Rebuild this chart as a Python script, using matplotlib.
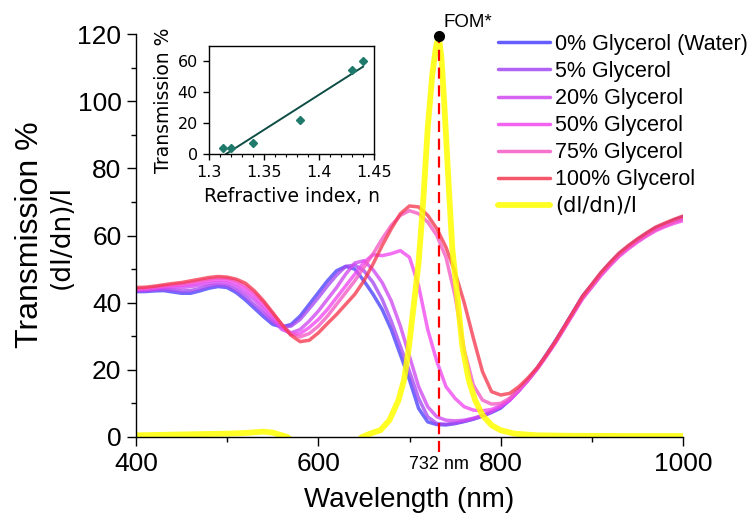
import numpy as np
import matplotlib
matplotlib.use('Agg')
import matplotlib.pyplot as plt
import matplotlib.transforms as mtransforms
from matplotlib.ticker import MultipleLocator

plt.rcParams['font.family'] = ['Liberation Sans', 'DejaVu Sans']

# ---------------- transmission spectra ----------------
wavelength = np.arange(400, 1001, 10)

# 400-800 nm, then the 810-1000 nm tail where all spectra collapse together
t_water = [43.3, 43.3, 43.5, 43.6, 43.2, 42.8, 42.8, 43.5, 44.3, 44.8, 44.5, 43.0, 40.8, 38.3,
           35.8, 33.5, 32.8, 33.5, 36.0, 39.5, 43.0, 46.5, 49.5, 50.8, 50.0, 46.5, 42.5, 38.0,
           32.0, 24.5, 17.0, 8.5, 4.5, 3.7, 3.6, 4.0, 4.6, 5.3, 6.2, 7.3, 8.6,
           11.0, 13.8, 17.0, 20.5, 24.5, 28.6, 33.0, 37.5, 42.0, 45.3, 48.8, 51.8, 54.6, 56.8,
           58.8, 60.6, 62.3, 63.4, 64.6, 65.6]
t_gly5 = [43.5, 43.6, 43.8, 44.0, 43.8, 43.5, 43.6, 44.2, 45.0, 45.3, 45.0, 43.8, 41.8, 39.3,
          36.8, 34.3, 32.8, 33.0, 35.0, 38.2, 41.5, 45.0, 48.2, 50.8, 51.2, 49.5, 46.0, 41.0,
          34.5, 27.0, 19.5, 11.5, 6.0, 4.0, 3.8, 4.1, 4.7, 5.4, 6.3, 7.5, 8.9,
          11.2, 14.0, 17.0, 20.4, 24.3, 28.4, 32.8, 37.3, 41.7, 45.0, 48.5, 51.5, 54.3, 56.5,
          58.5, 60.3, 62.0, 63.2, 64.3, 65.2]
t_gly20 = [43.8, 43.9, 44.1, 44.4, 44.5, 44.5, 44.8, 45.2, 45.7, 46.0, 45.8, 44.8, 43.0, 40.8,
           38.0, 35.0, 32.0, 31.0, 32.0, 34.5, 37.5, 41.0, 44.5, 48.5, 51.8, 52.5, 49.8, 46.0,
           40.5, 33.0, 24.0, 15.0, 9.0, 6.0, 5.0, 4.8, 5.0, 5.6, 6.4, 7.6, 9.0,
           11.0, 13.9, 16.9, 20.3, 24.2, 28.3, 32.7, 37.2, 41.6, 45.0, 48.4, 51.4, 54.2, 56.4,
           58.4, 60.2, 61.9, 63.0, 64.1, 65.0]
t_gly50 = [44.0, 44.1, 44.4, 44.8, 45.0, 45.2, 45.5, 46.0, 46.5, 46.8, 46.6, 45.8, 44.2, 42.0,
           39.2, 36.0, 32.8, 30.5, 30.8, 32.6, 35.0, 38.0, 41.5, 45.0, 48.5, 52.0, 54.3, 54.0,
           54.6, 55.5, 53.5, 45.0, 32.0, 22.5, 15.0, 11.5, 9.0, 8.0, 7.8, 8.2, 9.4,
           11.0, 13.8, 16.8, 20.2, 24.0, 28.0, 32.4, 36.8, 41.2, 44.6, 48.0, 51.0, 53.8, 56.0,
           58.0, 59.8, 61.4, 62.6, 63.6, 64.4]
t_gly75 = [44.2, 44.3, 44.6, 45.0, 45.3, 45.6, 46.0, 46.5, 47.0, 47.3, 47.2, 46.5, 45.0, 42.8,
           40.0, 36.8, 33.5, 30.8, 29.8, 30.8, 33.0, 36.0, 39.5, 43.0, 46.5, 50.5, 54.5, 59.0,
           63.0, 66.0, 67.4, 66.5, 64.0, 60.0, 53.5, 42.0, 26.0, 15.5, 11.0, 9.8, 10.0,
           11.6, 14.2, 17.0, 20.3, 24.1, 28.1, 32.5, 37.0, 41.4, 44.8, 48.3, 51.3, 54.0, 56.3,
           58.3, 60.0, 61.7, 62.9, 64.0, 64.9]
t_gly100 = [44.5, 44.6, 44.9, 45.3, 45.7, 46.0, 46.5, 47.0, 47.5, 47.8, 47.6, 47.0, 45.8, 43.5,
            40.5, 37.0, 33.5, 30.3, 28.4, 28.8, 31.0, 33.8, 36.5, 39.5, 42.5, 46.5, 51.5, 57.0,
            62.0, 66.5, 68.8, 68.5, 66.0, 62.0, 56.5, 49.0, 40.0, 29.5, 19.5, 13.5, 12.5,
            13.0, 15.0, 17.6, 20.6, 24.4, 28.5, 33.0, 37.5, 42.0, 45.5, 49.0, 52.0, 54.8, 57.0,
            59.0, 60.8, 62.5, 63.7, 64.8, 65.8]

labels = ['0% Glycerol (Water)', '5% Glycerol', '20% Glycerol', '50% Glycerol',
          '75% Glycerol', '100% Glycerol']
spectra = [t_water, t_gly5, t_gly20, t_gly50, t_gly75, t_gly100]
colors = ['#4a40ff', '#a448f2', '#d048f0', '#f048f0', '#f45ac4', '#f43850']

# ---------------- (dI/dn)/I sensitivity curve ----------------
sens_wl = [400, 420, 440, 460, 480, 500, 520, 530, 540, 550, 560, 566, 575, 640, 648, 655,
           662, 668, 678, 688, 694, 699, 705, 710, 715, 720, 725, 729, 732, 735, 738, 741,
           744, 747, 752, 758, 765, 772, 780, 790, 800, 815, 840, 880, 940, 1000]
sens_val = [0.5, 0.6, 0.7, 0.8, 0.9, 1.0, 1.2, 1.4, 1.6, 1.3, 0.5, 0.0, -2.0, -2.0, 0.0, 0.8,
            1.5, 2.0, 5.0, 11.0, 17.0, 26.0, 40.0, 52.0, 70.0, 92.0, 108.0, 116.0, 119.5, 113.0,
            100.0, 85.0, 70.0, 56.0, 43.0, 27.0, 17.0, 11.0, 6.5, 3.5, 2.0, 1.0, 0.5, 0.35,
            0.3, 0.3]

# ---------------- inset: transmission at 732 nm vs refractive index ----------------
ri = [1.313, 1.320, 1.340, 1.383, 1.430, 1.440]
t_732 = [3.9, 3.9, 7.1, 22.2, 54.2, 60.0]

fig = plt.figure(figsize=(7.5, 5.22), dpi=100)
ax = fig.add_axes([136/750, 1 - 437/522, (683-136)/750, (437-34)/522])

lines = []
for y, c, lab in zip(spectra, colors, labels):
    ln, = ax.plot(wavelength, y, color=c, lw=2.5, alpha=0.78, label=lab, solid_capstyle='round')
    lines.append(ln)

sens_line, = ax.plot(sens_wl, sens_val, color='#ffff00', lw=4.2, alpha=0.85,
                     label='(dI/dn)/I', solid_capstyle='round')
lines.append(sens_line)

# figure of merit: maximum of the sensitivity curve
i_max = int(np.argmax(sens_val))
fom_wl = sens_wl[i_max]
fom_val = sens_val[i_max]
ax.plot([fom_wl, fom_wl], [-4.5, 122.5], color='#ff0000', lw=1.6, ls=(0, (5, 3)),
        clip_on=False, zorder=5)
ax.plot(fom_wl, fom_val, 'o', color='black', ms=7, clip_on=False, zorder=6)
ax.text(fom_wl + 5, 123.5, 'FOM*', fontsize=13.5, va='center', ha='left', clip_on=False)

trans = mtransforms.blended_transform_factory(ax.transData, ax.transAxes)
ax.text(fom_wl, -0.069, f'{fom_wl} nm', transform=trans, fontsize=13, ha='center', va='center')

ax.set_xlim(400, 1000)
ax.set_ylim(0, 120)
ax.xaxis.set_major_locator(MultipleLocator(200))
ax.xaxis.set_minor_locator(MultipleLocator(100))
ax.yaxis.set_major_locator(MultipleLocator(20))
ax.yaxis.set_minor_locator(MultipleLocator(10))
ax.spines['top'].set_visible(False)
ax.spines['right'].set_visible(False)
for s in ['left', 'bottom']:
    ax.spines[s].set_linewidth(1.0)
ax.tick_params(which='major', direction='out', length=6.5, width=1.0, labelsize=19, pad=4)
ax.tick_params(which='minor', direction='out', length=3.5, width=1.0)

ax.set_xlabel('Wavelength (nm)', fontsize=20, labelpad=8)
fig.text(30/750, 1 - 235/522, 'Transmission %', rotation=90, fontsize=23,
         ha='center', va='center')
fig.text(62/750, 1 - 237/522, '(dI/dn)/I', rotation=90, fontsize=19,
         family='DejaVu Sans', ha='center', va='center')

leg = ax.legend(handles=lines, loc='upper left', bbox_to_anchor=(498/750, 1 - 34/522),
                bbox_transform=fig.transFigure, frameon=False, fontsize=15.5,
                handlelength=2.4, handletextpad=0.25, labelspacing=0.28,
                borderpad=0, borderaxespad=0)
leg.get_texts()[-1].set_family('DejaVu Sans')
leg.get_texts()[-1].set_fontsize(15)
for h in leg.legend_handles:
    h.set_alpha(0.85)

# inset
ax_in = fig.add_axes([209/750, 1 - 154/522, (374-209)/750, (154-46)/522])
ax_in.plot(ri, t_732, 'D', color='#1f7a6c', ms=4.5, zorder=3)
slope, icept = np.polyfit(ri, t_732, 1)
fit_x = np.array([-icept / slope, max(ri)])
ax_in.plot(fit_x, slope * fit_x + icept, color='#0d4d45', lw=1.4)
ax_in.set_xlim(1.3, 1.45)
ax_in.set_ylim(0, 70)
ax_in.xaxis.set_minor_locator(MultipleLocator(0.01))
ax_in.yaxis.set_major_locator(MultipleLocator(20))
ax_in.set_xticks([1.3, 1.35, 1.4, 1.45])
ax_in.set_xticklabels(['1.3', '1.35', '1.4', '1.45'])
for s in ax_in.spines.values():
    s.set_linewidth(1.0)
ax_in.tick_params(which='major', direction='out', length=4, width=1.0, labelsize=11.5, pad=4)
ax_in.tick_params(which='minor', direction='out', length=2.5, width=0.8)
for lab in ax_in.get_xticklabels() + ax_in.get_yticklabels():
    lab.set_family('DejaVu Sans')
ax_in.set_xlabel('Refractive index, n', fontsize=13.5, family='DejaVu Sans', labelpad=5)
ax_in.set_ylabel('Transmission %', fontsize=13.5, family='DejaVu Sans', labelpad=3)

fig.savefig('out.png', dpi=100)
